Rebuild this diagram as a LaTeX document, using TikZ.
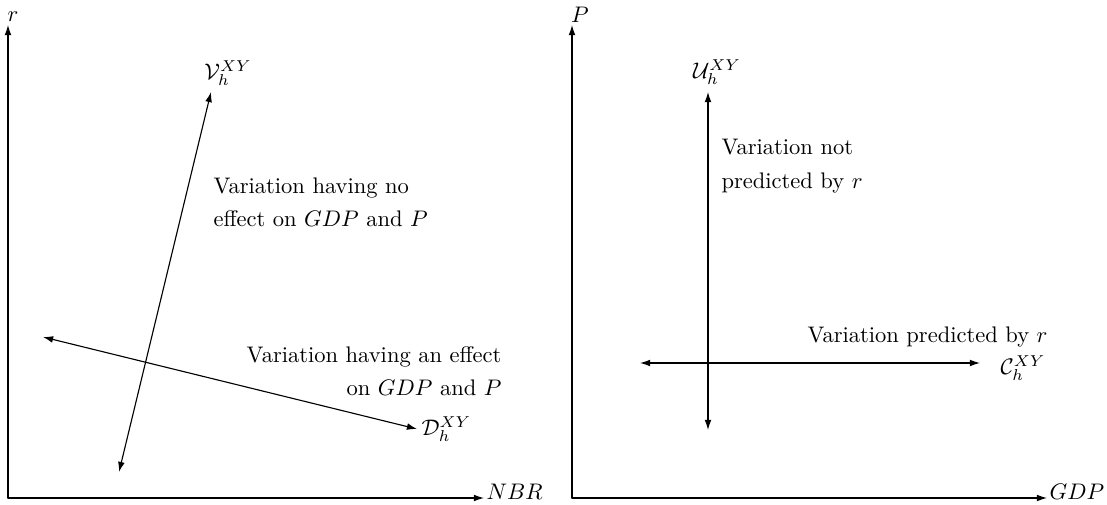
\documentclass[tikz,border=0pt]{standalone}
\usepackage{amsmath,amssymb}
\usepackage{tikz}
\usetikzlibrary{arrows.meta}

\begin{document}
\begin{tikzpicture}[x=0.444pt,y=-0.444pt, line cap=round, line join=round,
    >={Latex[length=4.5pt,width=3pt]}, line width=0.5pt,
    txt/.style={inner sep=0pt}]
    \useasboundingbox (0,0) rectangle (1107,505);

    % Left panel: axes
    \coordinate (lo) at (8,498);
    \coordinate (ltop) at (8,25);
    \coordinate (lright) at (484,498);
    \draw[->] (lo) -- (ltop);
    \draw[->] (lo) -- (lright);
    \node[txt] (rlab) at (13,17) {$r$};
    \node[txt, anchor=west] (nbrlab) at (486,492) {$NBR$};

    % Left panel: shifts
    \coordinate (vbot) at (119,472);
    \coordinate (vtop) at (211,92);
    \coordinate (dleft) at (43,337);
    \coordinate (dright) at (417,429);
    \draw[<->] (vbot) -- (vtop);
    \draw[<->] (dleft) -- (dright);
    \node[txt] (vlab) at (228,73) {$\mathcal{V}_h^{XY}$};
    \node[txt, anchor=west] (dlab) at (421,429) {$\mathcal{D}_h^{XY}$};

    % Left panel: notes
    \node[txt, anchor=north west, align=left] (noeff) at (213,177)
        {Variation having no\\[3pt] effect on $GDP$ and $P$};
    \node[txt, anchor=north east, align=right] (haseff) at (502,346)
        {Variation having an effect\\[2.5pt] on $GDP$ and $P$};

    % Right panel: axes
    \coordinate (ro) at (572,498);
    \coordinate (rtop) at (572,25);
    \coordinate (rright) at (1047,498);
    \draw[->] (ro) -- (rtop);
    \draw[->] (ro) -- (rright);
    \node[txt] (plab) at (580,15) {$P$};
    \node[txt, anchor=west] (gdplab) at (1049,492) {$GDP$};

    % Right panel: shifts
    \coordinate (ubot) at (708,430);
    \coordinate (utop) at (708,92);
    \coordinate (cleft) at (640,363);
    \coordinate (cright) at (980,363);
    \draw[<->] (ubot) -- (utop);
    \draw[<->] (cleft) -- (cright);
    \node[txt] (ulab) at (717,72) {$\mathcal{U}_h^{XY}$};
    \node[txt] (clab) at (1023,368) {$\mathcal{C}_h^{XY}$};

    % Right panel: notes
    \node[txt, anchor=north west, align=left] (notpred) at (721,139)
        {Variation not\\[3pt] predicted by $r$};
    \node[txt, anchor=base east] (pred) at (1048,342) {Variation predicted by $r$};
\end{tikzpicture}
\end{document}
